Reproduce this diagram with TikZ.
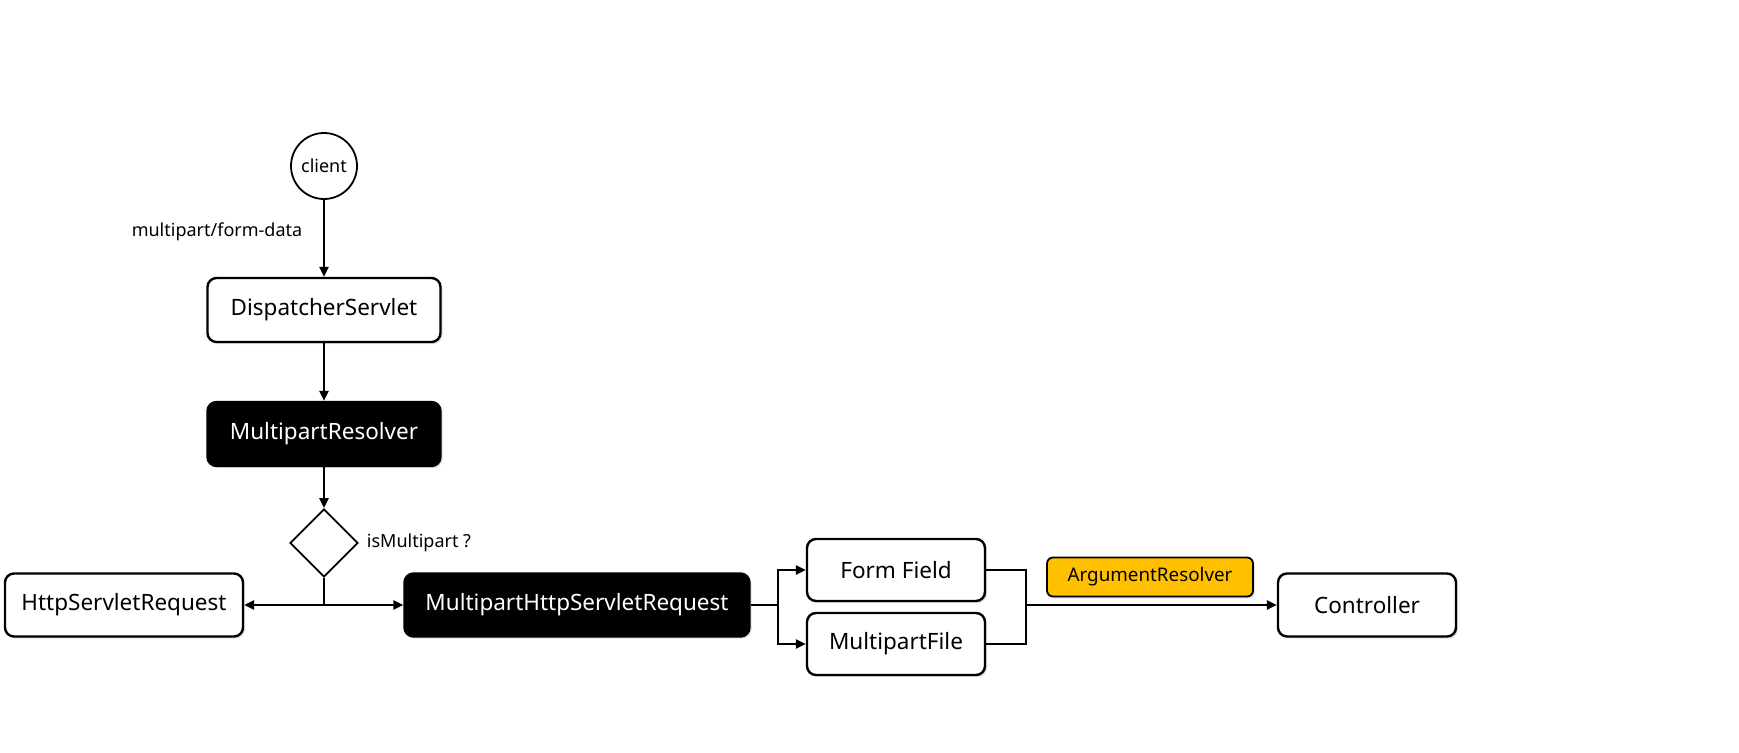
\documentclass[tikz,border=0pt]{standalone}
\usepackage{fontspec}
\setmainfont{Noto Sans}
\usetikzlibrary{arrows.meta,shapes.geometric,shadows}

\definecolor{argyellow}{RGB}{255,192,0}

\begin{document}
\begin{tikzpicture}[x=1pt, y=-1pt,
    big/.style={font=\fontsize{22.5}{27}\selectfont},
    small/.style={font=\fontsize{18}{22}\selectfont},
    box/.style={draw, line width=2.4pt, rounded corners=9pt, fill=white, big,
        drop shadow={shadow xshift=2pt, shadow yshift=-2pt, opacity=0.25}},
    darkbox/.style={box, fill=black, text=white},
    flow/.style={line width=2.4pt, -{Triangle[length=10pt, width=9pt]}}]
    \useasboundingbox (0,0) rectangle (1739,752);

    \node[draw, circle, line width=1.8pt, minimum size=66pt, inner sep=0pt, small] (client) at (324,166) {client};
    \node[box, minimum width=233pt, minimum height=64pt] (disp) at (324,310) {DispatcherServlet};
    \node[darkbox, minimum width=233pt, minimum height=64pt] (resolver) at (324,434) {MultipartResolver};
    \node[draw, diamond, line width=1.8pt, minimum width=68pt, minimum height=68pt, inner sep=0pt] (check) at (324,543) {};
    \node[box, minimum width=238pt, minimum height=63pt] (http) at (124,605) {HttpServletRequest};
    \node[darkbox, minimum width=345pt, minimum height=63pt] (mhsr) at (577,605) {MultipartHttpServletRequest};
    \node[box, minimum width=178pt, minimum height=62pt] (field) at (896,570) {Form Field};
    \node[box, minimum width=178pt, minimum height=62pt] (file) at (896,644) {MultipartFile};
    \node[box, fill=argyellow, rounded corners=6pt, line width=1.8pt, minimum width=206pt, minimum height=39pt, font=\fontsize{18.8}{22}\selectfont] (argres) at (1150,577) {ArgumentResolver};
    \node[box, minimum width=178pt, minimum height=63pt] (ctrl) at (1367,605) {Controller};

    \node[small] (mpform) at (217,232) {multipart/form-data};
    \node[small] (ismp) at (419,543) {isMultipart ?};

    \coordinate (junc) at (324,605);
    \coordinate (split) at (778,605);
    \coordinate (merge) at (1026,605);

    \draw[flow] (client) -- (disp);
    \draw[flow] (disp) -- (resolver);
    \draw[flow] (resolver) -- (check);
    \draw[line width=2.4pt] (check.south) -- (junc);
    \draw[flow] (junc) -- (http.east);
    \draw[flow] (junc) -- (mhsr.west);
    \draw[line width=2.4pt] (mhsr.east) -- (split);
    \draw[flow] (split) |- (field.west);
    \draw[flow] (split) |- (file.west);
    \draw[line width=2.4pt] (field.east) -| (merge);
    \draw[line width=2.4pt] (file.east) -| (merge);
    \draw[flow] (merge) -- (ctrl.west);
\end{tikzpicture}
\end{document}
